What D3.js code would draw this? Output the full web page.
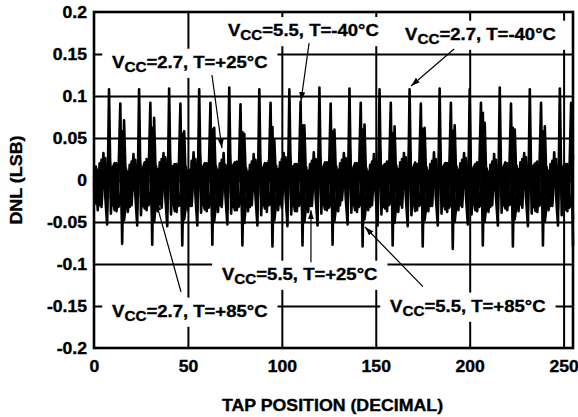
<!DOCTYPE html>
<html>
<head>
<meta charset="utf-8">
<script src="https://cdn.jsdelivr.net/npm/d3@7"></script>
<style>
  body { margin: 0; background: #fff; }
  text { font-family: "Liberation Sans", Arial, sans-serif; font-weight: bold; fill: #000; stroke: #000; stroke-width: 0.35px; }
</style>
</head>
<body>
<div id="chart-container"></div>
<script>
// Tick values and labels
const xTickValues = [0, 50, 100, 150, 200, 250];
const yTickValues = [-0.2, -0.15, -0.1, -0.05, 0, 0.05, 0.1, 0.15, 0.2];
const yTickLabels = ["-0.2", "-0.15", "-0.1", "-0.05", "0", "0.05", "0.1", "0.15", "0.2"];

// DNL traces (taps 0..255), 16 values per row
const dnlMain = [
   0.000, 0.006,-0.036, 0.008,-0.016, 0.032,-0.020,-0.053, 0.108,-0.040, 0.015, 0.020,-0.037, 0.002, 0.091,-0.076,
   0.071,-0.012,-0.038, 0.004,-0.014, 0.031,-0.018,-0.054, 0.108,-0.042, 0.014, 0.021,-0.036, 0.000, 0.092,-0.077,
   0.074,-0.010,-0.037, 0.006,-0.015, 0.032,-0.021,-0.055, 0.109,-0.041, 0.016, 0.019,-0.038, 0.001, 0.091,-0.078,
   0.058,-0.011,-0.036, 0.005,-0.016, 0.033,-0.019,-0.054, 0.108,-0.039, 0.015, 0.020,-0.037,-0.001, 0.092,-0.077,
   0.062,-0.012,-0.038, 0.004,-0.013, 0.032,-0.020,-0.053, 0.110,-0.040, 0.017, 0.021,-0.036, 0.002, 0.090,-0.078,
   0.055,-0.010,-0.037, 0.006,-0.015, 0.031,-0.021,-0.054, 0.108,-0.042, 0.014, 0.020,-0.038, 0.000, 0.092,-0.079,
   0.048,-0.011,-0.036, 0.005,-0.014, 0.032,-0.019,-0.055, 0.108,-0.041, 0.016, 0.019,-0.037, 0.001, 0.093,-0.078,
   0.065,-0.012,-0.038, 0.004,-0.016, 0.033,-0.020,-0.054, 0.110,-0.040, 0.015, 0.021,-0.036,-0.001, 0.091,-0.077,
   0.060,-0.010,-0.037, 0.006,-0.015, 0.032,-0.021,-0.053, 0.109,-0.039, 0.014, 0.020,-0.038, 0.002, 0.092,-0.079,
   0.066,-0.011,-0.036, 0.005,-0.013, 0.031,-0.019,-0.054, 0.108,-0.041, 0.017, 0.019,-0.037, 0.000, 0.092,-0.078,
   0.064,-0.012,-0.038, 0.004,-0.016, 0.032,-0.020,-0.055, 0.108,-0.042, 0.015, 0.021,-0.036, 0.001, 0.091,-0.079,
   0.062,-0.010,-0.037, 0.006,-0.014, 0.033,-0.021,-0.054, 0.109,-0.040, 0.016, 0.020,-0.038,-0.001, 0.092,-0.082,
   0.065,-0.011,-0.036, 0.005,-0.015, 0.032,-0.019,-0.053, 0.108,-0.041, 0.014, 0.019,-0.037, 0.002, 0.092,-0.078,
   0.068,-0.012,-0.038, 0.004,-0.016, 0.031,-0.020,-0.054, 0.110,-0.039, 0.015, 0.021,-0.036, 0.000, 0.091,-0.079,
   0.060,-0.010,-0.037, 0.006,-0.013, 0.032,-0.021,-0.055, 0.108,-0.040, 0.017, 0.020,-0.038, 0.001, 0.092,-0.078,
   0.064,-0.011,-0.036, 0.005,-0.015, 0.033,-0.019,-0.054, 0.109,-0.042, 0.016, 0.019,-0.037,-0.001, 0.092,-0.079
];
const dnlMid = [
  -0.004,-0.028, 0.012,-0.030, 0.024,-0.010, 0.016,-0.036, 0.050,-0.022,-0.030, 0.012, 0.020,-0.032,-0.028, 0.058,
  -0.048,-0.026, 0.010,-0.032, 0.022,-0.012, 0.018,-0.035, 0.046,-0.020,-0.031, 0.010, 0.021,-0.030,-0.027, 0.062,
  -0.050,-0.027, 0.013,-0.029, 0.025,-0.011, 0.015,-0.037, 0.052,-0.023,-0.029, 0.013, 0.019,-0.031,-0.029, 0.055,
  -0.047,-0.029, 0.011,-0.031, 0.023,-0.009, 0.017,-0.036, 0.048,-0.021,-0.030, 0.011, 0.020,-0.033,-0.028, 0.060,
  -0.049,-0.028, 0.012,-0.030, 0.024,-0.010, 0.016,-0.035, 0.050,-0.022,-0.032, 0.012, 0.022,-0.032,-0.026, 0.057,
  -0.051,-0.026, 0.010,-0.032, 0.022,-0.012, 0.018,-0.036, 0.047,-0.020,-0.030, 0.010, 0.020,-0.030,-0.028, 0.063,
  -0.048,-0.027, 0.013,-0.029, 0.025,-0.011, 0.015,-0.037, 0.051,-0.023,-0.031, 0.013, 0.019,-0.031,-0.027, 0.065,
  -0.050,-0.029, 0.011,-0.031, 0.023,-0.009, 0.017,-0.035, 0.049,-0.021,-0.029, 0.011, 0.021,-0.033,-0.029, 0.058,
  -0.049,-0.028, 0.012,-0.030, 0.024,-0.010, 0.016,-0.036, 0.050,-0.022,-0.030, 0.012, 0.020,-0.032,-0.028, 0.060,
  -0.047,-0.026, 0.010,-0.032, 0.022,-0.012, 0.018,-0.037, 0.046,-0.020,-0.032, 0.010, 0.022,-0.030,-0.026, 0.056,
  -0.051,-0.027, 0.013,-0.029, 0.025,-0.011, 0.015,-0.035, 0.052,-0.023,-0.030, 0.013, 0.019,-0.031,-0.028, 0.061,
  -0.048,-0.029, 0.011,-0.031, 0.023,-0.009, 0.017,-0.036, 0.048,-0.021,-0.031, 0.011, 0.020,-0.033,-0.027, 0.059,
  -0.050,-0.028, 0.012,-0.030, 0.024,-0.010, 0.016,-0.037, 0.050,-0.022,-0.029, 0.012, 0.021,-0.032,-0.029, 0.080,
  -0.049,-0.026, 0.010,-0.032, 0.022,-0.012, 0.018,-0.035, 0.047,-0.020,-0.030, 0.010, 0.020,-0.030,-0.028, 0.062,
  -0.047,-0.027, 0.013,-0.029, 0.025,-0.011, 0.015,-0.036, 0.051,-0.023,-0.032, 0.013, 0.022,-0.031,-0.026, 0.058,
  -0.050,-0.029, 0.011,-0.031, 0.023,-0.009, 0.017,-0.035, 0.049,-0.021,-0.030, 0.011, 0.019,-0.033,-0.028, 0.030
];
const dnlLow = [
   0.004, 0.016,-0.022, 0.020,-0.032, 0.008, 0.026,-0.018, 0.035, 0.004,-0.022,-0.036, 0.014, 0.010, 0.030,-0.048,
  -0.012, 0.014,-0.020, 0.018,-0.030, 0.010, 0.024,-0.020, 0.033, 0.006,-0.024,-0.034, 0.025, 0.012, 0.028,-0.046,
  -0.010, 0.017,-0.023, 0.021,-0.033, 0.007, 0.027,-0.017, 0.036, 0.003,-0.021,-0.037, 0.015, 0.009, 0.031,-0.049,
  -0.013, 0.015,-0.021, 0.012,-0.031, 0.009, 0.025,-0.019, 0.044, 0.005,-0.023,-0.035, 0.013, 0.011, 0.029,-0.047,
  -0.011, 0.016,-0.022, 0.020,-0.032, 0.008, 0.018,-0.018, 0.035, 0.004,-0.022,-0.036, 0.014, 0.010, 0.030,-0.048,
  -0.012, 0.014,-0.028, 0.018,-0.030, 0.010, 0.024,-0.020, 0.033, 0.006,-0.024,-0.034, 0.012, 0.022, 0.028,-0.046,
  -0.010, 0.017,-0.023, 0.021,-0.033, 0.007, 0.027,-0.017, 0.036, 0.003,-0.021,-0.037, 0.015, 0.009, 0.038,-0.049,
  -0.013, 0.015,-0.021, 0.019,-0.031, 0.009, 0.025,-0.019, 0.034, 0.005,-0.023,-0.035, 0.013, 0.011, 0.029,-0.047,
  -0.011, 0.016,-0.022, 0.020,-0.024, 0.008, 0.026,-0.018, 0.035, 0.004,-0.022,-0.036, 0.014, 0.010, 0.030,-0.048,
  -0.012, 0.014,-0.020, 0.018,-0.030, 0.010, 0.024,-0.020, 0.042, 0.006,-0.024,-0.034, 0.012, 0.012, 0.028,-0.046,
  -0.010, 0.017,-0.023, 0.021,-0.033, 0.007, 0.027,-0.017, 0.036, 0.003,-0.021,-0.037, 0.015, 0.009, 0.031,-0.049,
  -0.013, 0.015,-0.021, 0.019,-0.031, 0.009, 0.025,-0.019, 0.034, 0.005,-0.023,-0.035, 0.020, 0.011, 0.029,-0.047,
  -0.011, 0.016,-0.022, 0.020,-0.032, 0.008, 0.026,-0.018, 0.035, 0.004,-0.022,-0.036, 0.014, 0.010, 0.030,-0.048,
  -0.012, 0.014,-0.020, 0.018,-0.030, 0.010, 0.024,-0.020, 0.033, 0.006,-0.024,-0.034, 0.012, 0.012, 0.028,-0.046,
  -0.010, 0.017,-0.023, 0.021,-0.033, 0.007, 0.027,-0.017, 0.036, 0.003,-0.021,-0.037, 0.015, 0.009, 0.031,-0.049,
  -0.013, 0.015,-0.021, 0.019,-0.031, 0.009, 0.025,-0.019, 0.034, 0.005,-0.023,-0.035, 0.013, 0.011, 0.029,-0.047
];

// Annotations: "V" + subscript "CC" + rest, text start and arrow in data units
const noteVoltage = ["=5.5, T=-40°C", "=2.7, T=-40°C", "=2.7, T=+25°C", "=5.5, T=+25°C", "=2.7, T=+85°C", "=5.5, T=+85°C"];
const notePos = [[71.3, 0.171], [165.6, 0.1667], [9.6, 0.1333], [68.1, -0.119], [9.6, -0.163], [157.6, -0.157]];
const arrowFrom = [[114.5, 0.163], [191.7, 0.156], [62.8, 0.125], [115.5, -0.098], [46.3, -0.133], [175.1, -0.127]];
const arrowTo = [[110.2, 0.094], [168.8, 0.112], [68.1, 0.038], [115.5, -0.036], [33.0, -0.026], [144.3, -0.056]];

const margin = { top: 12, right: 5, bottom: 69, left: 94 };
const width = 578 - margin.left - margin.right;
const height = 417 - margin.top - margin.bottom;
const sx = 1.1; // glyphs in the reference are a little wide

const root = d3.select("#chart-container")
  .append("svg")
  .attr("width", 578)
  .attr("height", 417);

root.append("defs").append("marker")
  .attr("id", "head")
  .attr("markerUnits", "userSpaceOnUse")
  .attr("markerWidth", 10).attr("markerHeight", 8)
  .attr("refX", 9).attr("refY", 3)
  .attr("orient", "auto")
  .append("path")
  .attr("d", "M0,0 L9,3 L0,6 Z")
  .attr("fill", "#000");

const svg = root.append("g")
  .attr("transform", `translate(${margin.left}, ${margin.top})`);

const x = d3.scaleLinear().domain([0, 255]).range([0, width]);
const y = d3.scaleLinear().domain([-0.2, 0.2]).range([height, 0]);

// Grid
svg.append("g")
  .attr("transform", `translate(0, ${height})`)
  .call(d3.axisBottom(x).tickValues(xTickValues.slice(1)).tickSize(-height).tickFormat(""))
  .call(g => g.select(".domain").remove())
  .selectAll("line").attr("stroke", "#000").attr("stroke-width", 2);

svg.append("g")
  .call(d3.axisLeft(y).tickValues(yTickValues.slice(1, -1)).tickSize(-width).tickFormat(""))
  .call(g => g.select(".domain").remove())
  .selectAll("line").attr("stroke", "#000").attr("stroke-width", 2);

svg.append("rect")
  .attr("width", width).attr("height", height)
  .attr("fill", "none").attr("stroke", "#000").attr("stroke-width", 2.6);

// Traces
const line = d3.line()
  .x((d, i) => x(i))
  .y(d => y(d));

[dnlLow, dnlMid, dnlMain].forEach(series => {
  svg.append("path")
    .datum(series)
    .attr("d", line)
    .attr("fill", "none")
    .attr("stroke", "#000")
    .attr("stroke-width", 2.6)
    .attr("stroke-linejoin", "round");
});

// Tick labels
svg.append("g")
  .call(d3.axisLeft(y).tickValues(yTickValues).tickSize(0).tickFormat((d, i) => yTickLabels[i]))
  .call(g => g.select(".domain").remove())
  .selectAll("text")
  .attr("x", 0).attr("dy", "0.35em")
  .attr("transform", `translate(-7,0) scale(${sx},1)`)
  .style("font-size", "16px");

svg.append("g")
  .attr("transform", `translate(0, ${height})`)
  .call(d3.axisBottom(x).tickValues(xTickValues).tickSize(0).tickFormat(d3.format("d")))
  .call(g => g.select(".domain").remove())
  .selectAll("text")
  .attr("y", 13).attr("dy", "0.71em")
  .attr("transform", `scale(${sx},1)`)
  .style("font-size", "16px");

root.selectAll(".tick text").attr("font-family", null).attr("fill", null);

// Axis titles
svg.append("text")
  .attr("transform", `translate(${width / 2 - 1}, ${height + 63}) scale(1.11,1)`)
  .attr("text-anchor", "middle")
  .style("font-size", "16px")
  .text("TAP POSITION (DECIMAL)");

svg.append("text")
  .attr("transform", `translate(${-72}, ${height / 2}) rotate(-90) scale(1.12,1)`)
  .attr("text-anchor", "middle")
  .style("font-size", "16px")
  .text("DNL (LSB)");

// Annotations
noteVoltage.forEach((rest, i) => {
  const g = svg.append("g")
    .attr("transform", `translate(${x(notePos[i][0])}, ${y(notePos[i][1])}) scale(1.09,1)`);
  const t = g.append("text").style("font-size", "17px");
  t.append("tspan").text("V");
  t.append("tspan").attr("dy", 4).style("font-size", "14px").text("CC");
  t.append("tspan").attr("dy", -4).text(rest);
  const b = t.node().getBBox();
  g.insert("rect", "text")
    .attr("x", b.x - 9).attr("y", b.y - 4)
    .attr("width", b.width + 18).attr("height", b.height + 7)
    .attr("fill", "#fff");
});

arrowFrom.forEach((p, i) => {
  svg.append("line")
    .attr("x1", x(p[0])).attr("y1", y(p[1]))
    .attr("x2", x(arrowTo[i][0])).attr("y2", y(arrowTo[i][1]))
    .attr("stroke", "#000").attr("stroke-width", 1.2)
    .attr("marker-end", "url(#head)");
});
</script>
</body>
</html>
